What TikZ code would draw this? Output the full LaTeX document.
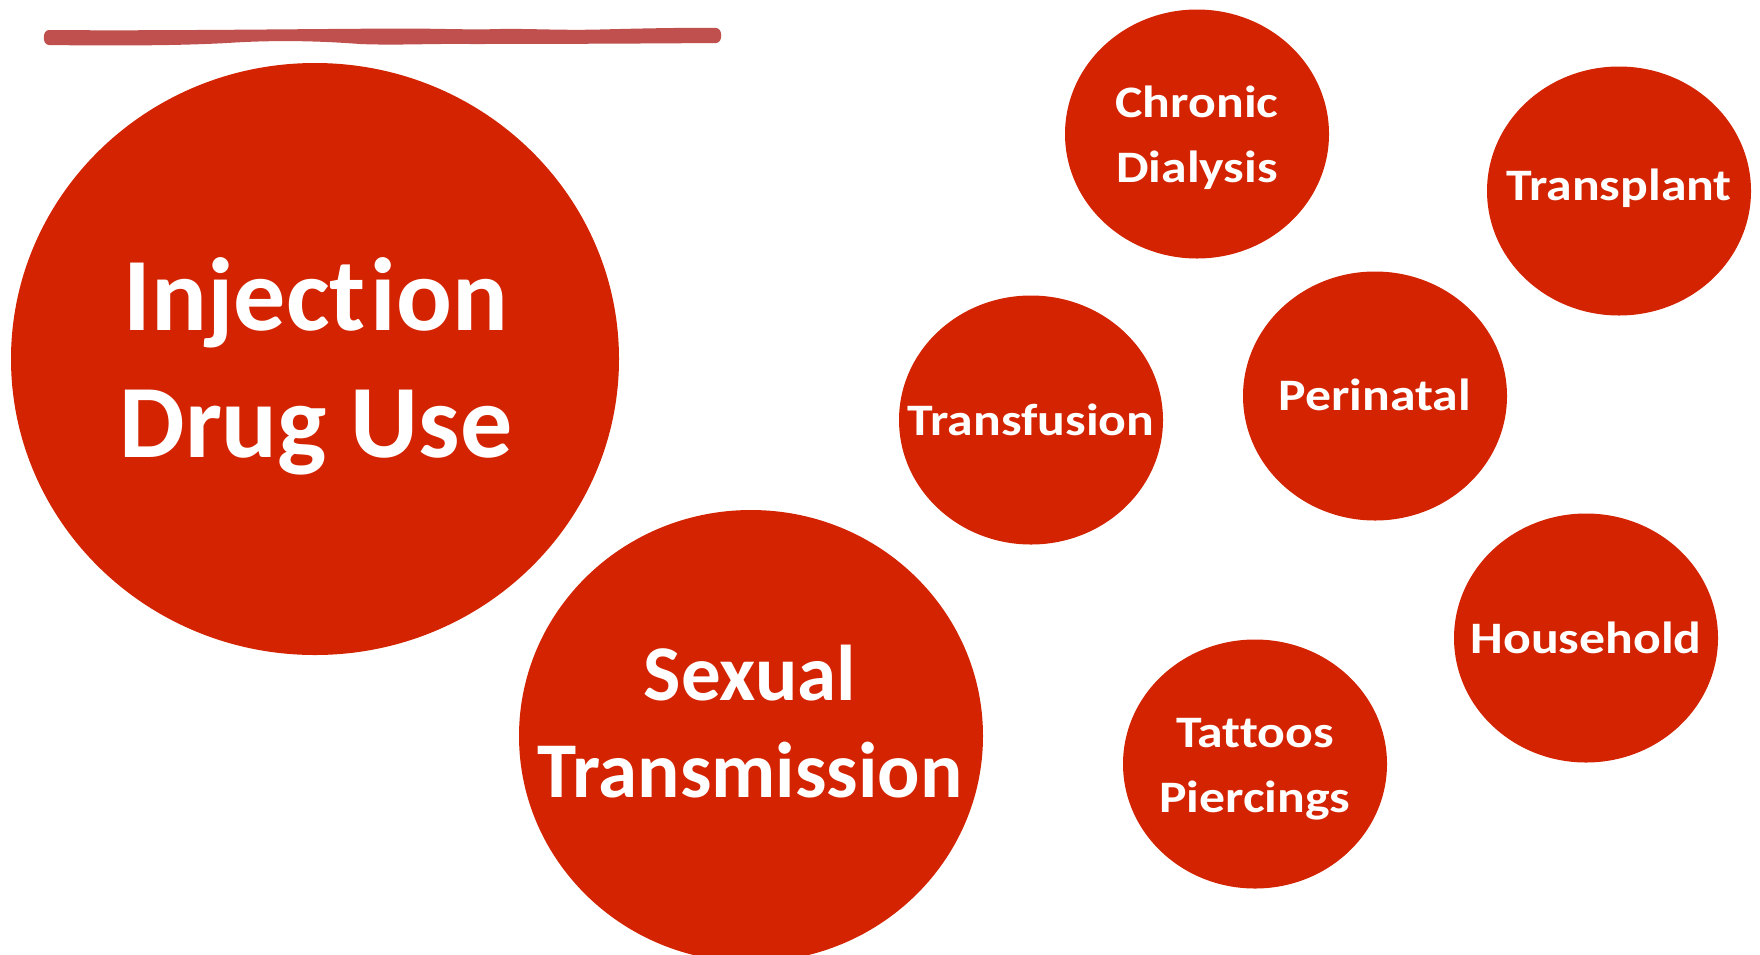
\documentclass[tikz,border=0pt]{standalone}
\usepackage{fontspec}
\setmainfont{Carlito}[Ligatures={NoCommon,NoContextual}]
\newfontfamily\wideface{Carlito}[FakeStretch=1.15,Ligatures={NoCommon,NoContextual}]
\usetikzlibrary{shapes.geometric}
\definecolor{blobred}{HTML}{D42300}
\definecolor{barred}{HTML}{C0504D}
\tikzset{
  blob/.style={ellipse, fill=blobred, draw=none, inner sep=0pt},
  smallblob/.style={blob, minimum width=264pt, minimum height=249pt},
  biglbl/.style={text=white, align=center, anchor=base, inner sep=0pt,
    font=\bfseries\fontsize{104}{127}\selectfont},
  midlbl/.style={text=white, align=center, anchor=base, inner sep=0pt,
    font=\bfseries\fontsize{79}{97}\selectfont},
  smalllbl/.style={text=white, align=center, anchor=base, inner sep=0pt,
    font=\wideface\bfseries\fontsize{45}{65}\selectfont},
}
\begin{document}
\begin{tikzpicture}[x=1pt,y=-1pt]
\useasboundingbox (0,0) rectangle (1760,954);
\fill[white] (0,0) rectangle (1760,954);
% brush stroke bar
\fill[barred] (49,30) .. controls (42,30) and (42,45) .. (49,45)
  .. controls (120,46) and (190,45.5) .. (235,42.5)
  .. controls (280,40) and (320,41) .. (360,44)
  .. controls (395,45.5) and (430,43.5) .. (470,44)
  .. controls (560,44) and (650,43.5) .. (716,43)
  .. controls (723,43) and (723,28) .. (716,28)
  .. controls (680,27.5) and (640,28.5) .. (600,29.5)
  .. controls (560,30.5) and (530,28.5) .. (500,29)
  .. controls (470,30) and (440,28.5) .. (400,28.5)
  .. controls (300,29) and (150,31) .. (49,30) -- cycle;
% circles
\node[blob, minimum width=608pt, minimum height=592pt] (idu) at (315,359) {};
\node[blob, minimum width=464pt, minimum height=452pt] (sex) at (751,736) {};
\node[smallblob] (dial) at (1197,134) {};
\node[smallblob] (trpl) at (1619,191) {};
\node[smallblob] (trfu) at (1031,420) {};
\node[smallblob] (peri) at (1375,396) {};
\node[smallblob] (hous) at (1586,638) {};
\node[smallblob] (tatt) at (1255,764) {};
% labels (anchor=base is the baseline of the last line)
\node[biglbl] (idu-t) at (316,457) {Injec\kern0pt t\kern5pt ion\\Drug Use};
\node[midlbl] (sex-t) at (750,797) {Sexual\\Transmission};
\node[smalllbl] (dial-t) at (1197,182) {Chronic\\Dialysis};
\node[smalllbl] (trpl-t) at (1619,200) {Transplant};
\node[smalllbl] (trfu-t) at (1031,435) {Transfusion};
\node[smalllbl] (peri-t) at (1375,410) {Perinatal};
\node[smalllbl] (hous-t) at (1586,653) {Household};
\node[smalllbl] (tatt-t) at (1255,812) {Tattoos\\Piercings};
\end{tikzpicture}
\end{document}
